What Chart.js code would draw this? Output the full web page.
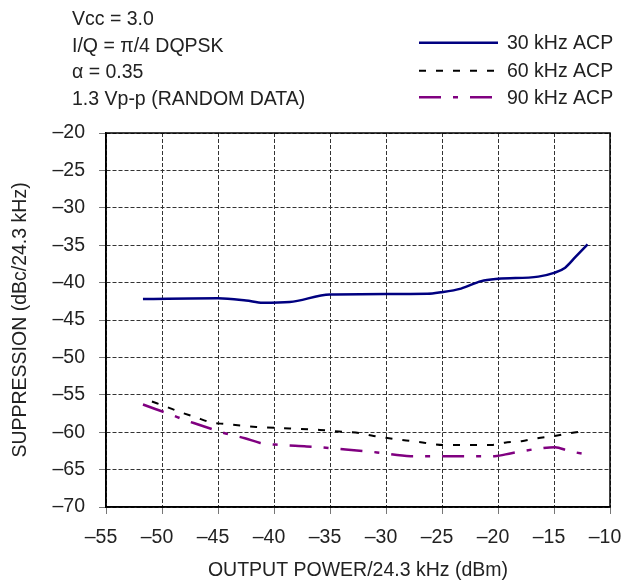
<!DOCTYPE html>
<html>
<head>
<meta charset="utf-8">
<script src="https://cdn.jsdelivr.net/npm/chart.js@4/dist/chart.umd.min.js"></script>
<style>
  body { margin: 0; background: #fff; }
  #wrap { position: relative; width: 621px; height: 584px; }
  #notes { position: absolute; left: 72px; top: 5px; font: 19.5px "Liberation Sans", Arial, sans-serif; color: #222; line-height: 26.5px; }
</style>
</head>
<body>
<div id="wrap">
  <canvas id="chart" width="621" height="584"></canvas>
  <div id="notes">
    <div>Vcc = 3.0</div>
    <div>I/Q = π/4 DQPSK</div>
    <div>α = 0.35</div>
    <div>1.3 Vp-p (RANDOM DATA)</div>
  </div>
</div>
<script>
// 30 kHz ACP
const acp30X = [-51.7, -45.0, -42.5, -41.0, -38.6, -35.0, -26.3, -25.1, -23.3, -21.5, -20.0, -16.4, -15.0, -14.0, -13.1, -12.0];
const acp30Y = [-42.2, -42.1, -42.4, -42.7, -42.6, -41.6, -41.5, -41.3, -40.8, -39.8, -39.5, -39.2, -38.7, -38.0, -36.6, -34.9];
// 60 kHz ACP
const acp60X = [-50.9, -49.6, -48.4, -47.0, -45.6, -44.4, -41.6, -38.6, -35.9, -34.2, -32.4, -31.1, -28.2, -26.6, -24.9, -20.6, -19.4, -17.9, -16.5, -15.0, -13.5, -12.0];
const acp60Y = [-55.9, -56.6, -57.3, -58.0, -58.7, -58.9, -59.3, -59.5, -59.7, -59.9, -60.1, -60.5, -61.1, -61.4, -61.7, -61.7, -61.4, -61.2, -60.8, -60.5, -60.1, -59.8];
// 90 kHz ACP
const acp90X = [-51.7, -50.6, -49.1, -48.1, -46.7, -44.9, -44.0, -42.6, -41.3, -39.5, -37.1, -33.6, -30.8, -27.8, -24.5, -20.3, -18.8, -16.4, -14.9, -13.7, -12.0];
const acp90Y = [-56.3, -56.9, -57.7, -58.3, -59.0, -59.9, -60.3, -60.8, -61.4, -61.7, -61.9, -62.3, -62.7, -63.2, -63.2, -63.2, -62.8, -62.2, -62.0, -62.5, -63.0];

const seriesNames = ["30 kHz ACP", "60 kHz ACP", "90 kHz ACP"];
const xTitle = "OUTPUT POWER/24.3 kHz (dBm)";
const yTitle = "SUPPRESSION (dBc/24.3 kHz)";

const FONT = "Liberation Sans, Arial, sans-serif";
const pts = (xs, ys) => xs.map((x, i) => ({ x: x, y: ys[i] }));
const dash = v => String(v).replace("-", "\u2013");

// frame round the plot + legend in the upper right
const extras = {
  id: "extras",
  afterDraw(chart) {
    const { ctx, chartArea: a } = chart;
    ctx.save();
    ctx.strokeStyle = "#000";
    ctx.lineWidth = 1.5;
    ctx.setLineDash([]);
    ctx.strokeRect(a.left, a.top, a.right - a.left, a.bottom - a.top);

    const rows = [42.7, 70.7, 97.3];
    chart.data.datasets.forEach((ds, i) => {
      ctx.strokeStyle = ds.borderColor;
      ctx.lineWidth = ds.borderWidth;
      ctx.setLineDash(ds.borderDash || []);
      ctx.beginPath();
      ctx.moveTo(419, rows[i]);
      ctx.lineTo(498, rows[i]);
      ctx.stroke();
      ctx.setLineDash([]);
      ctx.fillStyle = "#222";
      ctx.font = "19.5px " + FONT;
      ctx.textBaseline = "middle";
      ctx.fillText(ds.label, 507, rows[i] + 1);
    });
    ctx.restore();
  }
};

new Chart(document.getElementById("chart"), {
  type: "line",
  data: {
    datasets: [
      { label: seriesNames[0], data: pts(acp30X, acp30Y), borderColor: "#000080", borderWidth: 2.5 },
      { label: seriesNames[1], data: pts(acp60X, acp60Y), borderColor: "#000000", borderWidth: 2, borderDash: [7, 10] },
      { label: seriesNames[2], data: pts(acp90X, acp90Y), borderColor: "#800080", borderWidth: 2.5, borderDash: [22, 12, 5, 12] }
    ]
  },
  options: {
    responsive: false,
    animation: false,
    layout: { padding: { top: 133, right: 11, left: 0, bottom: 0 } },
    elements: {
      point: { radius: 0 },
      line: { cubicInterpolationMode: "monotone", fill: false }
    },
    plugins: { legend: { display: false }, tooltip: { enabled: false } },
    scales: {
      x: {
        type: "linear",
        min: -55, max: -10,
        afterFit: s => { s.height = 77; s.paddingLeft = 0; s.paddingRight = 0; },
        ticks: { stepSize: 5, padding: 12, labelOffset: -5, color: "#222", font: { family: FONT, size: 19.5 }, callback: dash, maxRotation: 0 },
        grid: { color: "#333", lineWidth: 1, tickLength: 7, tickColor: "#777" },
        border: { color: "#000", width: 1.5, dash: [4, 2] },
        title: { display: true, text: xTitle, color: "#222", font: { family: FONT, size: 19.5 }, padding: { top: 0, bottom: 2 } }
      },
      y: {
        min: -70, max: -20,
        afterFit: s => { s.width = 106; },
        ticks: { stepSize: 5, padding: 14, color: "#222", font: { family: FONT, size: 19.5 }, callback: dash },
        grid: { color: "#333", lineWidth: 1, tickLength: 7, tickColor: "#777" },
        border: { color: "#000", width: 1.5, dash: [4, 2] },
        title: { display: true, text: yTitle, color: "#222", font: { family: FONT, size: 19.5 }, padding: { top: 9, bottom: 0 } }
      }
    }
  },
  plugins: [extras]
});
</script>
</body>
</html>
